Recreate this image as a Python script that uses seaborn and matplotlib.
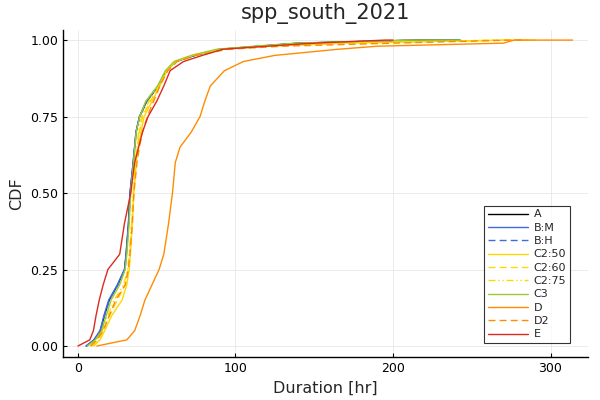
import matplotlib
matplotlib.use("Agg")
import matplotlib.pyplot as plt
import seaborn as sns
import pandas as pd

title = "spp_south_2021"
levels = [0.0, 0.02, 0.05, 0.10, 0.15, 0.20, 0.25, 0.30, 0.40, 0.50, 0.60, 0.65,
          0.70, 0.75, 0.80, 0.85, 0.90, 0.93, 0.95, 0.97, 0.98, 0.99, 1.0, 1.0]

hours_A    = [5.5, 10.5, 14.2, 16.8, 19.8, 25.2, 29.6, 30.6, 32.1, 33.1, 35.1, 36.0, 36.9, 39.1, 43.6, 51, 56, 62, 74, 90, 115, 140, 215, 242]
hours_BM   = [5, 10, 14, 16.5, 19.5, 25, 29.5, 30.5, 32, 33, 35, 35.9, 36.8, 39, 43.5, 51, 56, 62, 74, 90, 115, 140, 215, 242]
hours_BH   = [5.5, 10.5, 14.5, 17, 20, 25.5, 29.8, 30.8, 32.2, 33.2, 35.2, 36.1, 37, 39.2, 43.8, 51, 56, 62, 74, 90, 116, 142, 218, 243]
hours_C250 = [10, 14, 17, 21.5, 28, 31, 32.5, 33.3, 34.5, 35.5, 37, 38.3, 40, 42, 47, 52, 56.5, 62, 73, 92, 120, 165, 275, 290]
hours_C260 = [9, 13, 16, 20, 25, 30, 32, 33, 34.3, 35.3, 36.5, 37.7, 39, 41, 46, 51.5, 56, 62, 72, 90, 118, 170, 270, 285]
hours_C275 = [8, 12, 15.5, 19, 23, 29, 31.5, 32.5, 34, 35, 36.3, 37.4, 38.5, 40.5, 45, 51, 56, 62, 72, 90, 118, 175, 265, 280]
hours_C3   = [6, 11, 15, 18, 21, 26.5, 30, 31, 32.5, 33.5, 35.3, 36.1, 37, 39.2, 43, 50.5, 55.5, 61, 72, 88, 112, 138, 210, 243]
hours_D    = [12, 31, 36, 39.5, 42.5, 47, 51.5, 54.5, 57.5, 60, 61.8, 64.8, 72, 77.5, 80.5, 84, 93, 105, 125, 165, 190, 270, 277, 314]
hours_D2   = [8, 12, 16, 20, 24, 30, 32, 33, 34.5, 35.5, 37.5, 39, 41, 44, 48, 52, 57, 63, 75, 95, 130, 200, 275, 285]
hours_E    = [0, 7.5, 9.8, 11.5, 13.5, 16, 19, 26.5, 29.5, 33.5, 36, 38.5, 41, 44.5, 50, 54.5, 58.5, 67, 79, 92, 120, 150, 195, 200]

series = [
    ("A", hours_A, "black", "-"),
    ("B:M", hours_BM, "#4169E1", "-"),
    ("B:H", hours_BH, "#4169E1", (0, (5, 3))),
    ("C2:50", hours_C250, "#FFD700", "-"),
    ("C2:60", hours_C260, "#FFD700", (0, (5, 3))),
    ("C2:75", hours_C275, "#FFD700", (0, (5, 2, 1, 2, 1, 2))),
    ("C3", hours_C3, "#9ACD32", "-"),
    ("D", hours_D, "#FF8C00", "-"),
    ("D2", hours_D2, "#FF8C00", (0, (5, 3))),
    ("E", hours_E, "#DC2A1E", "-"),
]

sns.set_style("white")
plt.rcParams['font.family'] = ['DejaVu Sans']

fig = plt.figure(figsize=(6, 4), dpi=100)
ax = fig.add_axes([0.105, 0.1075, 0.875, 0.8175])

for name, hrs, col, ls in series:
    df = pd.DataFrame({"hr": hrs, "cdf": levels})
    sns.lineplot(data=df, x="hr", y="cdf", color=col, linestyle=ls, lw=1.0,
                 sort=False, estimator=None, ax=ax, label=name)

ax.set_xlim(-9.5, 323.8)
ax.set_ylim(-0.036, 1.033)
ax.set_xticks([0, 100, 200, 300])
ax.set_yticks([0, 0.25, 0.5, 0.75, 1.0])
ax.set_yticklabels(["0.00", "0.25", "0.50", "0.75", "1.00"])
ax.grid(True, color="#e8e8e8", lw=0.6)
for s in ["top", "right"]:
    ax.spines[s].set_visible(False)
for s in ["left", "bottom"]:
    ax.spines[s].set_color("black")
    ax.spines[s].set_linewidth(1.0)
ax.tick_params(axis="both", labelsize=9, length=3, direction="in", colors="black", left=True, bottom=True)
ax.set_xlabel("Duration [hr]", fontsize=11.5)
ax.set_ylabel("CDF", fontsize=11.5)
ax.set_title(title, fontsize=15, pad=8)

leg = ax.legend(loc="lower right", fontsize=8, frameon=True, fancybox=False,
                edgecolor="black", borderpad=0.35, handlelength=3.6, handletextpad=0.5,
                labelspacing=0.3, borderaxespad=0.2,
                bbox_to_anchor=(0.97, 0.035))
leg.get_frame().set_linewidth(0.8)

fig.savefig("out.png", dpi=100)
